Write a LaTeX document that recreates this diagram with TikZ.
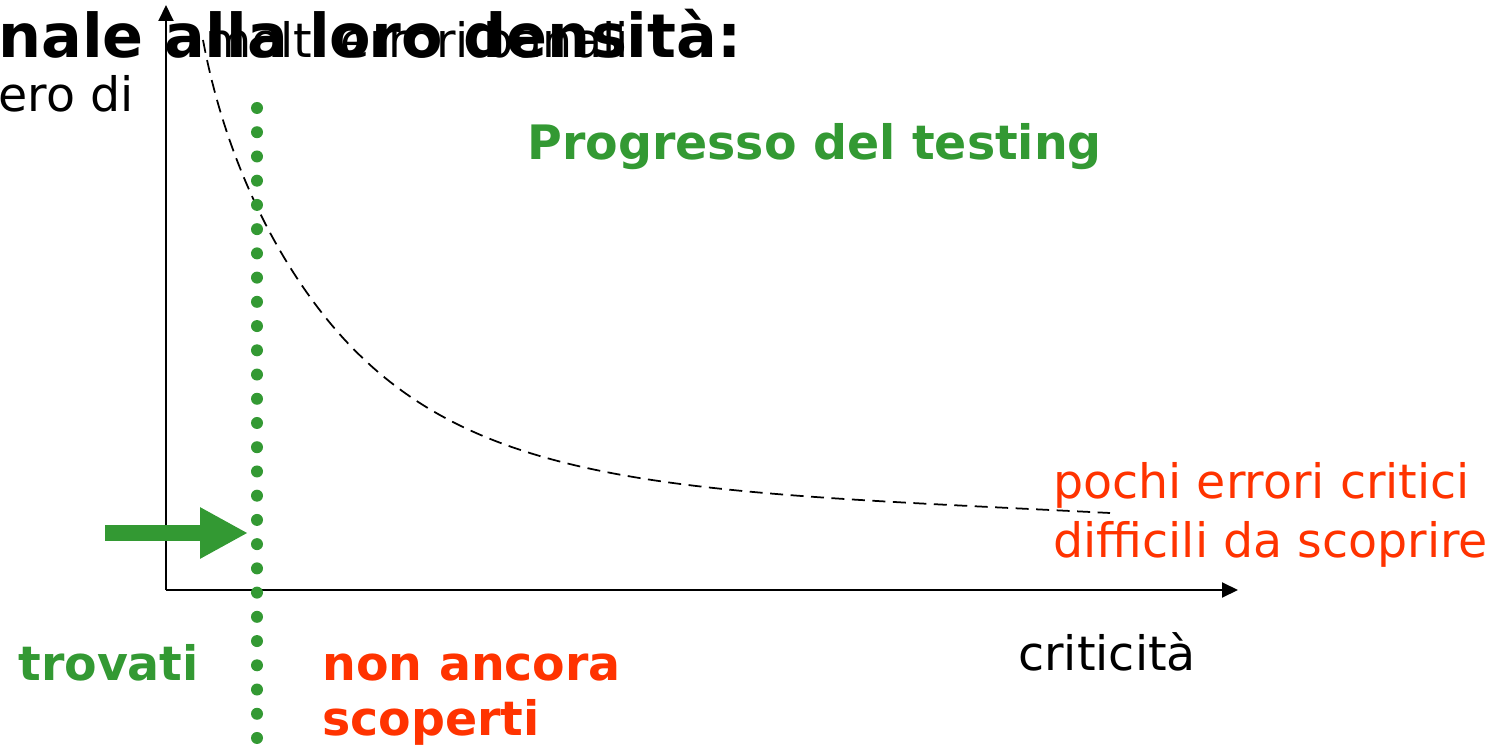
\documentclass[tikz,border=0pt]{standalone}
\usepackage{fontspec}
\setmainfont{DejaVu Sans}
\usetikzlibrary{arrows.meta}
\definecolor{testgreen}{HTML}{339933}
\definecolor{errred}{HTML}{FF3300}
\tikzstyle{plaintext} = [inner sep=0pt, anchor=base west, align=left, font=\fontsize{27}{33.5}\selectfont]
\tikzstyle{boldtext} = [inner sep=0pt, anchor=base west, align=left, font=\fontsize{27}{31.3}\selectfont\bfseries]
\tikzstyle{titletext} = [inner sep=0pt, anchor=base west, font=\fontsize{34.4}{40}\selectfont\bfseries]
\tikzstyle{axis} = [line width=0.4mm, -{Triangle[length=3.2mm,width=3mm]}]
\tikzstyle{curve} = [line width=0.35mm, dash pattern=on 2.6mm off 1.5mm]
\tikzstyle{bigarrow} = [testgreen, line width=3.2mm, -{Triangle[length=9.6mm,width=9.6mm]}]

\begin{document}
\begin{tikzpicture}[x=0.2mm, y=-0.2mm]
  \useasboundingbox (0,0) rectangle (1501,746);

  % axes
  \coordinate (origin) at (166,590);
  \coordinate (ytop) at (166,5);
  \coordinate (xend) at (1238,590);
  \draw [axis] (origin) -- (ytop);
  \draw [axis] (origin) -- (xend);

  % error density curve
  \coordinate (curvestart) at (203,40);
  \coordinate (curvemid) at (310,297);
  \coordinate (curveend) at (1110,513);
  \draw [curve] (curvestart) .. controls (220,131) and (256,222) .. (curvemid)
                .. controls (450,492) and (660,490) .. (curveend);

  % testing progress line
  \coordinate (dottop) at (257,108);
  \coordinate (dotbottom) at (257,740);
  \draw [testgreen, line width=2.4mm, line cap=round, dash pattern=on 0pt off 4.846mm] (dottop) -- (dotbottom);

  \coordinate (arrowtail) at (105,533);
  \coordinate (arrowtip) at (248,533);
  \draw [bigarrow] (arrowtail) -- (arrowtip);

  % texts
  \node (title) [titletext] at (-2,58) {nale alla loro densità:};
  \node (banali) [plaintext] at (205,58) {molti errori banali};
  \node (numero) [plaintext] at (-2,112) {ero di};
  \node (progresso) [boldtext, testgreen] at (527,160) {Progresso del testing};
  \node (pochi) [plaintext, errred] at (1053,557) {pochi errori critici\\difficili da scoprire};
  \node (criticita) [plaintext] at (1018,670) {criticità};
  \node (trovati) [boldtext, testgreen] at (18,680) {trovati};
  \node (scoperti) [boldtext, errred] at (322,735) {non ancora\\scoperti};
\end{tikzpicture}
\end{document}
